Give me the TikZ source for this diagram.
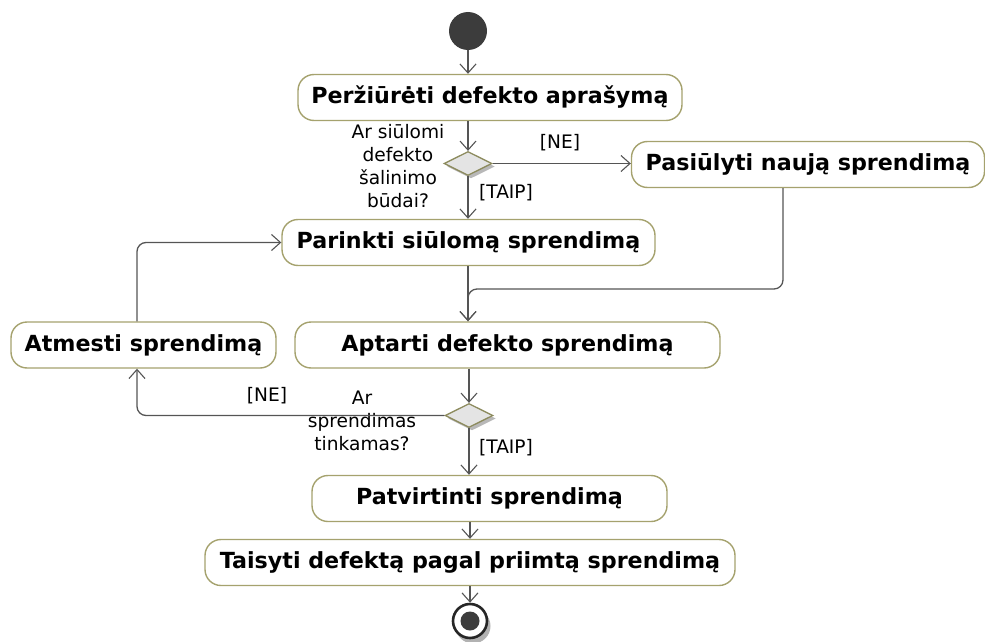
\documentclass[tikz,border=0pt]{standalone}
\usepackage{fontspec}
\setmainfont{DejaVu Sans}
\usetikzlibrary{arrows.meta,shapes.geometric,shadows}
\definecolor{boxline}{RGB}{165,162,110}
\definecolor{flow}{RGB}{85,85,85}
\definecolor{dfill}{RGB}{228,228,228}
\definecolor{blob}{RGB}{60,60,60}
\begin{document}
\begin{tikzpicture}[x=1pt,y=-1pt,
  action/.style={draw=boxline, line width=1.4pt, fill=white, rounded corners=16pt,
    minimum height=46pt, inner sep=0pt, font=\fontsize{22.2}{25}\selectfont\bfseries},
  decision/.style={diamond, draw=boxline!85!black, fill=dfill, line width=1.3pt,
    minimum width=48pt, minimum height=24pt, inner sep=0pt,
    drop shadow={shadow xshift=3pt, shadow yshift=-3pt, fill=black!28, opacity=1}},
  flowline/.style={draw=flow, line width=1.3pt, rounded corners=9pt,
    -{Straight Barb[length=9pt,width=16pt,line width=1.1pt]}},
  lbl/.style={font=\fontsize{18.6}{23}\selectfont, inner sep=0pt, align=center}]

\useasboundingbox (0,0) rectangle (985,642);

% start and end nodes
\node[circle, fill=blob, minimum size=38pt, inner sep=0pt] (init) at (468,31) {};
\fill[black!30] (473,626) circle (17.5pt);
\node[circle, draw=black!85, fill=white, line width=2.6pt, minimum size=34pt, inner sep=0pt] (fin) at (470,621) {};
\fill[blob] (fin.center) circle (9.5pt);

% actions
\node[action, minimum width=384pt] (a1) at (490,97.5) {Peržiūrėti defekto aprašymą};
\node[action, minimum width=353pt] (a2) at (808,164.5) {Pasiūlyti naują sprendimą};
\node[action, minimum width=373pt] (a3) at (468.5,242.5) {Parinkti siūlomą sprendimą};
\node[action, minimum width=425pt] (a4) at (507.5,345) {Aptarti defekto sprendimą};
\node[action, minimum width=265pt] (a5) at (143.5,345) {Atmesti sprendimą};
\node[action, minimum width=355pt] (a6) at (489.5,498.5) {Patvirtinti sprendimą};
\node[action, minimum width=530pt] (a7) at (470,562.5) {Taisyti defektą pagal priimtą sprendimą};

% decisions
\node[decision] (d1) at (468,163.5) {};
\node[decision] (d2) at (469,415.5) {};

% decision questions and guards
\node[lbl] (q1) at (398,166) {Ar siūlomi\\defekto\\šalinimo\\būdai?};
\node[lbl] (q2) at (362,421) {Ar\\sprendimas\\tinkamas?};
\node[lbl] (g1) at (560,143) {[NE]};
\node[lbl] (g2) at (506,193) {[TAIP]};
\node[lbl] (g3) at (267,396) {[NE]};
\node[lbl] (g4) at (506,448) {[TAIP]};

% control flows
\draw[flowline] (init) -- (init |- a1.north);
\draw[flowline] (d1 |- a1.south) -- (d1.north);
\draw[flowline] (d1.east) -- (d1.east -| a2.west);
\draw[flowline] (d1.south) -- (d1 |- a3.north);
\draw[flowline] (d1 |- a3.south) -- (d1 |- a4.north);
\coordinate (m1) at (783,289);
\draw[flowline] (a2.south -| m1) |- (d1 |- m1) -- (d1 |- a4.north);
\draw[flowline] (d2 |- a4.south) -- (d2.north);
\coordinate (m2) at (137,240);
\draw[flowline] (a5.north -| m2) |- (a3.west);
\draw[flowline] (d2.west) -| (a5.south -| m2);
\draw[flowline] (d2.south) -- (d2 |- a6.north);
\draw[flowline] (a7.north |- a6.south) -- (a7.north);
\draw[flowline] (a7.south) -- (fin.north);

\end{tikzpicture}
\end{document}
